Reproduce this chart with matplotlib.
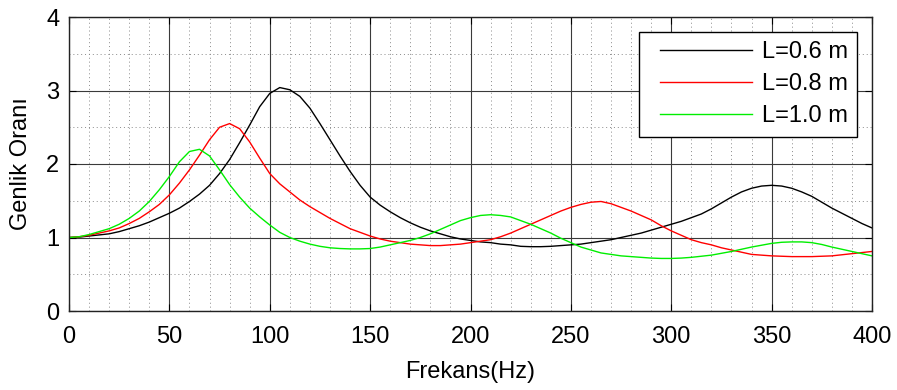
import matplotlib
matplotlib.use("Agg")
import matplotlib.pyplot as plt
from matplotlib.ticker import MultipleLocator
from matplotlib.lines import Line2D
from matplotlib.legend_handler import HandlerLine2D

plt.rcParams['font.family'] = ['Liberation Sans', 'DejaVu Sans']

freq = list(range(0, 405, 5))

amp_06 = [1.00, 1.005, 1.02, 1.035, 1.05, 1.08, 1.12, 1.16, 1.21, 1.27,
          1.33, 1.40, 1.49, 1.59, 1.71, 1.87, 2.06, 2.29, 2.53, 2.78,
          2.96, 3.04, 3.01, 2.92, 2.76, 2.55, 2.33, 2.11, 1.90, 1.71,
          1.55, 1.44, 1.35, 1.27, 1.20, 1.14, 1.09, 1.05, 1.01, 0.98,
          0.96, 0.94, 0.93, 0.91, 0.90, 0.88, 0.875, 0.875, 0.88, 0.89,
          0.90, 0.91, 0.93, 0.95, 0.97, 1.00, 1.03, 1.06, 1.10, 1.14,
          1.18, 1.22, 1.27, 1.32, 1.39, 1.47, 1.55, 1.62, 1.67, 1.70,
          1.71, 1.70, 1.67, 1.62, 1.56, 1.48, 1.40, 1.33, 1.26, 1.19,
          1.13]

amp_08 = [1.00, 1.01, 1.03, 1.06, 1.09, 1.13, 1.19, 1.26, 1.35, 1.45,
          1.58, 1.74, 1.92, 2.12, 2.33, 2.50, 2.55, 2.48, 2.30, 2.08,
          1.87, 1.73, 1.62, 1.51, 1.42, 1.34, 1.26, 1.19, 1.12, 1.07,
          1.02, 0.98, 0.95, 0.93, 0.91, 0.90, 0.89, 0.89, 0.90, 0.91,
          0.93, 0.95, 0.97, 1.01, 1.06, 1.12, 1.18, 1.24, 1.30, 1.36,
          1.41, 1.45, 1.48, 1.49, 1.46, 1.41, 1.36, 1.30, 1.24, 1.16,
          1.09, 1.03, 0.97, 0.93, 0.90, 0.86, 0.83, 0.80, 0.77, 0.76,
          0.75, 0.745, 0.74, 0.74, 0.74, 0.745, 0.75, 0.765, 0.78, 0.795,
          0.81]

amp_10 = [1.00, 1.01, 1.04, 1.08, 1.12, 1.18, 1.26, 1.36, 1.49, 1.65,
          1.83, 2.03, 2.17, 2.20, 2.11, 1.92, 1.72, 1.55, 1.40, 1.28,
          1.17, 1.07, 1.00, 0.95, 0.91, 0.88, 0.86, 0.85, 0.845, 0.845,
          0.85, 0.87, 0.90, 0.93, 0.96, 1.00, 1.05, 1.11, 1.17, 1.23,
          1.27, 1.30, 1.31, 1.30, 1.28, 1.23, 1.18, 1.12, 1.06, 0.99,
          0.93, 0.87, 0.83, 0.79, 0.77, 0.75, 0.74, 0.73, 0.72, 0.715,
          0.715, 0.72, 0.73, 0.745, 0.76, 0.785, 0.81, 0.84, 0.87, 0.895,
          0.92, 0.935, 0.94, 0.94, 0.93, 0.905, 0.87, 0.84, 0.81, 0.78,
          0.75]

labels = ['L=0.6 m', 'L=0.8 m', 'L=1.0 m']
colors = ['#000000', '#ff0000', '#00ee00']

fig = plt.figure(figsize=(8.97, 3.90), dpi=100)
ax = fig.add_axes([69/897, 1-311/390, (872-69)/897, (311-17)/390])

for y, lab, c in zip([amp_06, amp_08, amp_10], labels, colors):
    ax.plot(freq, y, color=c, lw=1.0, label=lab)

ax.set_xlim(0, 400)
ax.set_ylim(0, 4)
ax.xaxis.set_major_locator(MultipleLocator(50))
ax.xaxis.set_minor_locator(MultipleLocator(10))
ax.yaxis.set_major_locator(MultipleLocator(1))
ax.yaxis.set_minor_locator(MultipleLocator(0.5))

ax.grid(which='major', color='#3a3a3a', lw=0.8, ls='-')
ax.grid(which='minor', color='#8a8a8a', lw=0.7, ls=(0, (1, 3)))
ax.set_axisbelow(True)

ax.tick_params(which='major', direction='in', length=5, width=0.8,
               labelsize=17, top=True, right=True)
ax.tick_params(axis='x', which='major', pad=11)
ax.tick_params(axis='y', which='major', pad=7)
ax.tick_params(which='minor', length=0)
for s in ax.spines.values():
    s.set_linewidth(1.0)
    s.set_color('#222222')

ax.set_xlabel('Frekans(Hz)', fontsize=17, labelpad=9)
ax.set_ylabel('Genlik Oranı', fontsize=17, labelpad=10)

leg = ax.legend(loc='upper right', bbox_to_anchor=(0.9813, 0.949),
                fontsize=17, handlelength=4.36, borderaxespad=0,
                frameon=True, fancybox=False, framealpha=1,
                edgecolor='black', labelspacing=0.42, borderpad=0.4,
                handletextpad=0.42,
                handler_map={Line2D: HandlerLine2D(xpad=0.5)})
leg.get_frame().set_linewidth(1.0)

fig.savefig('out.png', dpi=100)
